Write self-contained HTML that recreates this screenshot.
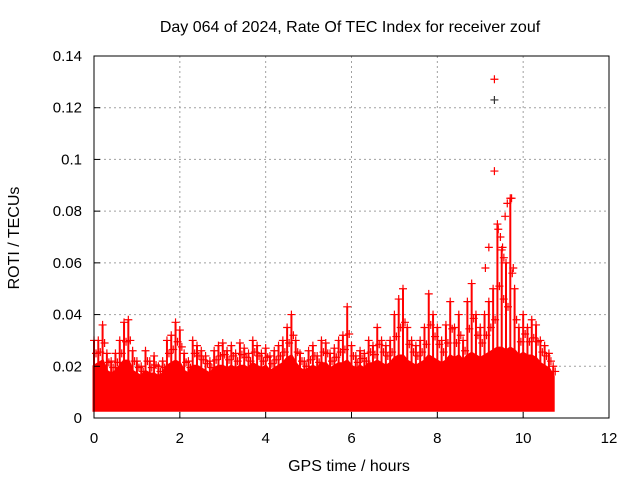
<!DOCTYPE html>
<html><head><meta charset="utf-8"><style>
body{margin:0;background:#fff;}
svg text{font-family:"Liberation Sans",sans-serif;font-size:15px;fill:#000;}
svg text.big{font-size:16px;}
</style></head><body>
<svg id="chart" width="640" height="480">
<text class="big" x="350" y="32" text-anchor="middle">Day 064 of 2024, Rate Of TEC Index for receiver zouf</text>
<g id="grid"></g><g id="band"></g><g id="marks"></g><g id="axes"></g>
<text class="big" x="349" y="471" text-anchor="middle">GPS time / hours</text>
<text class="big" transform="translate(19,238) rotate(-90)" text-anchor="middle">ROTI / TECUs</text>
</svg>
<script>
const xTicks=[0,2,4,6,8,10,12];
const yTicks=[0,0.02,0.04,0.06,0.08,0.1,0.12,0.14];
const yTickLabels=["0","0.02","0.04","0.06","0.08","0.1","0.12","0.14"];
const binTimes=[0,0.1,0.2,0.3,0.4,0.5,0.6,0.7,0.8,0.9,1.0,1.1,1.2,1.3,1.4,1.5,1.6,1.7,1.8,1.9,2.0,2.1,2.2,2.3,2.4,2.5,2.6,2.7,2.8,2.9,3.0,3.1,3.2,3.3,3.4,3.5,3.6,3.7,3.8,3.9,4.0,4.1,4.2,4.3,4.4,4.5,4.6,4.7,4.8,4.9,5.0,5.1,5.2,5.3,5.4,5.5,5.6,5.7,5.8,5.9,6.0,6.1,6.2,6.3,6.4,6.5,6.6,6.7,6.8,6.9,7.0,7.1,7.2,7.3,7.4,7.5,7.6,7.7,7.8,7.9,8.0,8.1,8.2,8.3,8.4,8.5,8.6,8.7,8.8,8.9,9.0,9.1,9.2,9.3,9.4,9.5,9.6,9.7,9.8,9.9,10.0,10.1,10.2,10.3,10.4,10.5,10.6,10.7];
const peakValues=[0.03,0.03,0.036,0.025,0.022,0.025,0.03,0.037,0.038,0.026,0.022,0.02,0.026,0.022,0.024,0.02,0.022,0.03,0.032,0.037,0.034,0.025,0.022,0.03,0.028,0.026,0.024,0.022,0.026,0.028,0.029,0.026,0.028,0.025,0.029,0.027,0.025,0.03,0.028,0.025,0.027,0.024,0.026,0.028,0.03,0.035,0.04,0.03,0.025,0.022,0.026,0.028,0.024,0.03,0.029,0.025,0.027,0.03,0.032,0.043,0.028,0.024,0.026,0.025,0.03,0.028,0.035,0.03,0.028,0.03,0.04,0.046,0.05,0.035,0.03,0.028,0.03,0.035,0.048,0.04,0.035,0.03,0.036,0.045,0.035,0.04,0.03,0.045,0.052,0.04,0.035,0.04,0.045,0.05,0.075,0.065,0.06,0.085,0.05,0.035,0.04,0.035,0.038,0.036,0.03,0.028,0.025,0.02];
const bandTop=[0.02,0.021,0.022,0.018,0.017,0.018,0.02,0.022,0.022,0.018,0.017,0.016,0.018,0.017,0.017,0.016,0.017,0.02,0.021,0.022,0.021,0.018,0.017,0.02,0.02,0.019,0.018,0.017,0.019,0.02,0.02,0.019,0.02,0.019,0.02,0.02,0.019,0.021,0.02,0.019,0.02,0.018,0.019,0.02,0.021,0.023,0.024,0.021,0.019,0.018,0.019,0.02,0.019,0.021,0.021,0.019,0.02,0.021,0.021,0.022,0.02,0.019,0.02,0.019,0.021,0.021,0.022,0.021,0.02,0.021,0.023,0.024,0.024,0.022,0.021,0.02,0.021,0.022,0.024,0.023,0.022,0.021,0.022,0.024,0.023,0.024,0.022,0.024,0.025,0.024,0.023,0.024,0.025,0.026,0.027,0.027,0.026,0.027,0.026,0.024,0.025,0.024,0.024,0.023,0.021,0.02,0.019,0.016];
const bandBottom=0.003;
const outlierTimes=[9.33,9.33,9.33,9.73,9.63,9.58,9.42,9.47,9.2,9.52,9.77,9.12,9.55];
const outlierValues=[0.131,0.123,0.0955,0.085,0.083,0.078,0.073,0.07,0.066,0.066,0.058,0.058,0.062];
const X=v=>94+v*(609-94)/12, Y=v=>418-v*(418-56)/0.14;
const NS="http://www.w3.org/2000/svg";
function mk(tag,attrs,parent){const e=document.createElementNS(NS,tag);for(const k in attrs)e.setAttribute(k,attrs[k]);document.getElementById(parent).appendChild(e);return e;}
xTicks.forEach((t,i)=>{
 if(t>0&&t<12){const g=mk('line',{x1:X(t),x2:X(t),y1:56,y2:418,stroke:'#a0a0a0','stroke-dasharray':'2,3'},'grid');
 
 }
 const tk=mk('line',{x1:X(t),x2:X(t),y1:418,y2:412,stroke:'#000'},'axes');
 
 
 const tx=mk('text',{x:X(t),y:443,'text-anchor':'middle'},'axes');tx.textContent=t;
 
 
});
yTicks.forEach((t,i)=>{
 if(t>0&&t<0.14){const g=mk('line',{x1:94,x2:609,y1:Y(t),y2:Y(t),stroke:'#a0a0a0','stroke-dasharray':'2,3'},'grid');
 
 }
 const tk=mk('line',{x1:94,x2:100,y1:Y(t),y2:Y(t),stroke:'#000'},'axes');
 
 
 const tx=mk('text',{x:82,y:Y(t)+5,'text-anchor':'end'},'axes');tx.textContent=yTickLabels[i];
 
 
});
const fr=mk('rect',{x:94,y:56,width:515,height:362,fill:'none',stroke:'#000'},'axes');


let pts=binTimes.map((t,i)=>X(t)+','+Y(bandTop[i]));
pts=pts.concat(binTimes.slice().reverse().map(t=>X(t)+','+Y(bandBottom)));
const band=mk('polygon',{points:pts.join(' '),fill:'#ff0000',stroke:'#ff0000','stroke-width':3},'band');


function cross(x,y,col){const p=mk('path',{d:`M${x-4},${y}h8M${x},${y-4}v8`,stroke:col,'stroke-width':1.2},'marks');return p;}
binTimes.forEach((t,i)=>{
 const l=mk('line',{x1:X(t),x2:X(t),y1:Y(bandTop[i]),y2:Y(peakValues[i]),stroke:'#ff0000','stroke-width':2},'marks');
 
 
 const c=cross(X(t),Y(peakValues[i]),'#ff0000');
 
 
 const c2=cross(X(t)+2,Y((peakValues[i]+bandTop[i])/2),'#ff0000');
 
 
});
outlierTimes.forEach((t,i)=>{
 const c=cross(X(t),Y(outlierValues[i]),i==1?'#333':'#ff0000');
 
 
});
</script>
</body></html>
